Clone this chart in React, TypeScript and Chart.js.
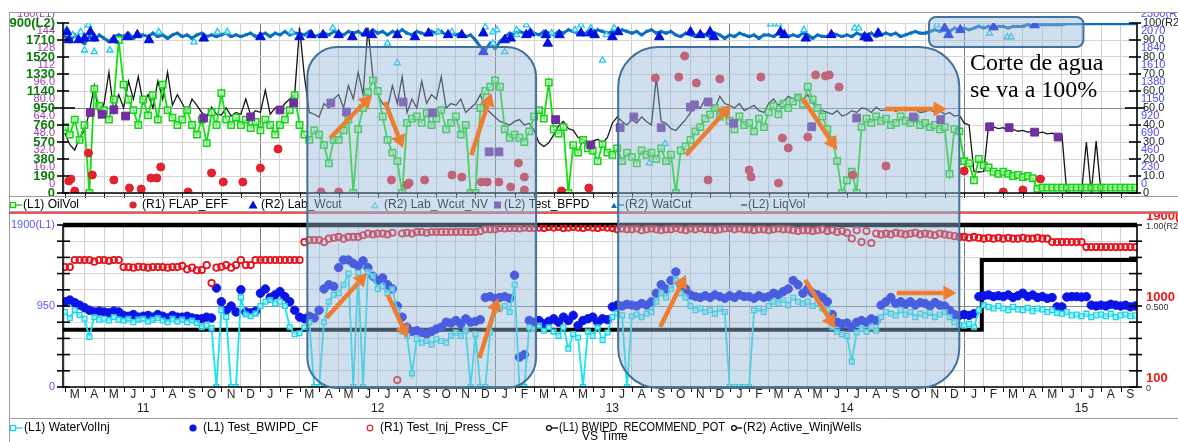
import React, { useEffect, useRef } from 'react';
import { Chart, registerables } from 'chart.js';

Chart.register(...registerables);

const W = 1178;
const H = 442;
const TOP_H = 212;
const BOT_H = H - TOP_H;
const STEP = 0.25; // months between samples, month 0 = Mar 2011
const X_MIN = -0.1;
const X_MAX = 54.84;
const SANS = '"Liberation Sans", Arial, Helvetica, sans-serif';
const SERIF = '"Liberation Serif", "Times New Roman", serif';

// ---------- axis tick labels ----------
const monthLetters = ['M', 'A', 'M', 'J', 'J', 'A', 'S', 'O', 'N', 'D', 'J', 'F'];
const yearLabels = ['11', '12', '13', '14', '15'];
const yearLabelMonths = [4, 16, 28, 40, 52];
const topL2Ticks = [0, 190, 380, 570, 760, 950, 1140, 1330, 1520, 1710, 1900];
const topL2Labels = ['0', '190', '380', '570', '760', '950', '1140', '1330', '1520', '1710', '1900(L2)'];
const topL1Ticks = [0, 16, 32, 48, 64, 80, 96, 112, 128, 144, 160];
const topL1Labels = ['0', '16.0', '32.0', '48.0', '64.0', '80.0', '96.0', '112', '128', '144', '160(L1)'];
const topR2Ticks = [0, 10, 20, 30, 40, 50, 60, 70, 80, 90, 100];
const topR2Labels = ['0', '10.0', '20.0', '30.0', '40.0', '50.0', '60.0', '70.0', '80.0', '90.0', '100(R2)'];
const topR1Ticks = [0, 230, 460, 690, 920, 1150, 1380, 1610, 1840, 2070, 2300];
const topR1Labels = ['0', '230', '460', '690', '920', '1150', '1380', '1610', '1840', '2070', '2300(R1)'];
const botL1Ticks = [0, 190, 380, 570, 760, 950, 1140, 1330, 1520, 1710, 1900];
const botL1LabelValues = [0, 950, 1900];
const botL1LabelTexts = ['0', '950', '1900(L1)'];
const botR2Ticks = [0, 0.1, 0.2, 0.3, 0.4, 0.5, 0.6, 0.7, 0.8, 0.9, 1.0];
const botR2LabelValues = [0, 0.5, 1.0];
const botR2LabelTexts = ['0', '0.500', '1.00(R2)'];
const botR1LabelValues = [100, 1000, 1900];
const botR1LabelTexts = ['100', '1000', '1900(R1)'];

// ---------- top panel series (quarter-month samples) ----------
const oilVol = [
  62, 55, 69, 50, 64, 0, 98, 82, 78, 69, 88, 144, 102, 88, 78, 64,
  88, 73, 92, 69, 102, 78, 71, 64, 69, 78, 64, 55, 69, 47, 76, 64,
  94, 69, 64, 71, 64, 69, 61, 67, 59, 69, 64, 55, 64, 69, 78, 92,
  64, 55, 50, 59, 55, 45, 28, 50, 50, 59, 69, 0, 60, 80, 95, 106,
  96, 72, 50, 38, 30, 0, 66, 70, 72, 66, 75, 64, 70, 78, 60, 66,
  72, 55, 64, 0, 0, 80, 96, 100, 106, 100, 60, 52, 55, 52, 48, 58,
  72, 78, 70, 104, 60, 56, 62, 0, 45, 38, 50, 42, 40, 30, 46, 38,
  36, 42, 30, 38, 34, 28, 40, 36, 38, 32, 42, 30, 36, 0, 40, 44,
  50, 58, 62, 70, 74, 80, 72, 78, 68, 60, 72, 64, 66, 58, 70, 62,
  76, 82, 74, 84, 80, 86, 90, 84, 100, 88, 80, 72, 60, 50, 30, 0,
  12, 20, 0, 62, 70, 66, 72, 68, 70, 64, 66, 72, 68, 66, 70, 64,
  66, 62, 64, 60, 62, 18, 60, 58, 30, 28, 12, 32, 26, 24, 20, 18,
  20, 18, 16, 17, 15, 16, 14, 4, 5, 5, 5, 5, 5, 5, 5, 5,
  5, 5, 5, 5, 5, 5, 5, 5, 5, 5, 5, 5,
];
const liqVol = [
  670, 540, 480, 615, 700, 900, 1200, 850, 1000, 1350, 900, 1100, 950, 1250, 1050, 1300,
  1000, 1100, 950, 1250, 1050, 1350, 980, 1100, 1000, 900, 1050, 980, 900, 850, 960, 880,
  870, 950, 860, 900, 880, 1050, 870, 920, 900, 1150, 880, 950, 920, 1000, 1050, 1100,
  1850, 1300, 900, 880, 850, 1000, 950, 1050, 1100, 950, 1200, 1050, 1350, 1100, 1850, 1300,
  1100, 1000, 950, 1200, 1000, 1300, 900, 1050, 950, 1250, 1000, 1100, 1050, 1300, 950, 1000,
  980, 1050, 900, 950, 1000, 1100, 950, 900, 850, 800, 780, 760, 800, 820, 760, 780,
  700, 560, 520, 560, 650, 750, 800, 720, 700, 620, 600, 560, 580, 600, 560, 620,
  780, 850, 800, 760, 820, 780, 850, 800, 760, 1290, 800, 780, 720, 700, 760, 820,
  900, 980, 950, 1050, 1000, 950, 1080, 1000, 980, 950, 1000, 920, 950, 980, 920, 900,
  1000, 1050, 980, 1020, 1080, 1050, 1100, 1040, 1100, 1000, 950, 920, 900, 880, 920, 860,
  880, 920, 900, 950, 940, 900, 960, 920, 930, 950, 910, 940, 920, 950, 930, 900,
  910, 930, 900, 920, 880, 900, 860, 870, 780, 760, 240, 235, 240, 760, 740, 720,
  730, 700, 710, 690, 700, 680, 690, 670, 680, 660, 670, 650, 650, 0, 0, 0,
  0, 570, 0, 580, 0, 0, 0, 0, 0, 0, 0, 0,
];
const watCut = [
  92, 89, 93, 90, 88, 92, 90, 93, 91, 89, 92, 93, 92, 94, 91, 93,
  93, 92, 94, 92, 93, 91, 93, 94, 92, 93, 91, 93, 94, 92, 93, 92,
  93, 94, 92, 93, 92, 93, 94, 92, 93, 94, 92, 94, 93, 95, 93, 94,
  94, 93, 95, 92, 93, 94, 93, 95, 94, 93, 95, 94, 95, 93, 94, 96,
  94, 95, 93, 95, 94, 96, 94, 93, 95, 94, 93, 95, 94, 95, 93, 94,
  93, 94, 92, 93, 90, 86, 84, 88, 85, 89, 92, 94, 93, 95, 94, 93,
  94, 93, 95, 94, 93, 95, 94, 96, 95, 94, 93, 95, 94, 96, 95, 94,
  95, 94, 96, 95, 94, 95, 93, 95, 96, 94, 95, 94, 95, 93, 92, 94,
  93, 92, 94, 93, 92, 94, 93, 91, 93, 92, 94, 93, 92, 93, 91, 93,
  93, 92, 94, 92, 92, 93, 92, 94, 93, 91, 93, 92, 92, 94, 93, 92,
  93, 92, 94, 93, 93, 94, 92, 93, 94, 93, 94, 92, 93, 94, 95, 94,
  94, 95, 96, 95, 96, 95, 97, 96, 97, 96, 97, 98, 97, 98, 97, 98,
  98, 97, 98, 98, 98, 99, 98, 99, 99, 99, 99, 99, 99, 99.5, 99.5, 99.5,
  99.5, 99.5, 99.5, 99.5, 99.5, 99.5, 99.5, 99.5, 99.5, 99.5, 99.5, 99.5,
];
const flapMonths = [0.2, 0.3, 0.5, 1.2, 1.4, 2.5, 3.3, 3.9, 4.4, 4.7, 4.9, 6.3, 7.5, 8.1, 9.1, 10.0, 10.9, 13.1, 14.0, 16.7, 17.5, 17.6, 18.4, 19.8, 20.3, 21.3, 21.6, 22.2, 22.8, 23.2, 23.5, 23.5, 25.4, 26.8, 30.2, 31.4, 31.7, 32.3, 33.5, 32.9, 35.0, 35.1, 35.6, 36.5, 36.7, 37.0, 38.0, 38.4, 38.9, 39.1, 39.6, 40.3, 42.0, 46.0, 48.0, 49.0, 49.9];
const flapEff = [162, 190, 27, 541, 244, 176, 68, 54, 203, 203, 352, 14, 271, 149, 149, 338, 595, 14, 14, 176, 108, 135, 176, 244, 216, 149, 149, 149, 81, 406, 216, 41, 27, 68, 1556, 1569, 1854, 1488, 1542, 176, 311, 216, 1569, 135, 744, 609, 758, 1597, 1583, 1597, 1434, 244, 365, 298, 14, 41, 189];
const labWcutMonths = [0.1, 0.2, 0.7, 1.0, 1.3, 1.5, 2.5, 3.2, 3.7, 4.3, 7.1, 10.0, 12.0, 12.6, 13.2, 14.0, 14.7, 15.4, 15.7, 17.0, 17.9, 18.6, 19.6, 20.3, 21.4, 22.5, 22.8, 23.6, 23.8, 24.6, 24.7, 25.3, 26.4, 26.9, 27.1, 28.0, 28.3, 30.4, 32.0, 32.5, 33.0, 33.2, 36.6, 36.8, 37.9, 39.2, 21.4, 40.9, 41.1, 41.6, 45.0, 45.2, 45.8, 47.5, 49.6];
const labWcut = [94.7, 90, 90, 91, 94.7, 91, 90, 91.8, 93, 90, 91, 91.8, 91.8, 93, 93, 93, 91.8, 94, 93, 93, 91.8, 94, 93, 93, 94, 90, 91, 93, 94, 93, 88, 93, 94, 94, 93, 91.8, 94.7, 91.8, 94.7, 93, 94.7, 91.8, 94.7, 93, 91, 93, 83, 91.8, 91, 94, 97, 93, 96, 97.6, 98.8];
const labWcutNvMonths = [0.1, 0.4, 0.8, 1.0, 1.2, 1.5, 2.3, 4.8, 6.6, 7.8, 8.3, 11.6, 13.7, 16.5, 17.0, 19.1, 19.8, 21.5, 21.9, 22.1, 22.5, 23.1, 23.6, 23.1, 23.9, 24.9, 26.1, 26.4, 26.9, 27.5, 27.7, 28.1, 36.1, 36.5, 37.8, 30.7, 29.9, 21.9, 40.4, 40.6, 44.6, 47.3, 48.2, 48.4];
const labWcutNv = [95.9, 93, 94.7, 84, 98.8, 83, 84, 94.7, 88.8, 94.7, 94.7, 94.7, 97, 88, 76.5, 94.7, 94.7, 97.6, 94.7, 95.9, 83, 95.9, 98.8, 93, 94, 94, 95.9, 98.8, 97, 78, 93, 97, 99.4, 99.4, 95.9, 29, 17.6, 88, 97, 97, 98.8, 94, 91.8, 91.8];
const bfpdMonths = [1.3, 1.9, 2.5, 3.1, 7.1, 9.5, 11.0, 11.7, 13.6, 14.4, 17.3, 18.8, 21.7, 22.2, 25.1, 26.9, 28.4, 29.1, 30.5, 32.0, 32.2, 32.9, 34.2, 38.2, 40.5, 43.4, 44.8, 47.3, 48.3, 49.6, 50.8];
const testBfpd = [900, 880, 930, 860, 838, 850, 928, 1006, 1006, 905, 1017, 894, 460, 460, 820, 537, 730, 850, 730, 960, 985, 1017, 780, 740, 838, 850, 820, 740, 730, 680, 625];

// ---------- bottom panel series (quarter-month samples) ----------
const waterVolInj = [
  880, 810, 900, 845, 800, 586, 820, 790, 800, 780, 820, 790, 780, 800, 760, 790,
  800, 770, 790, 810, 780, 760, 800, 770, 790, 760, 780, 750, 700, 720, 690, 0,
  900, 820, 0, 0, 1050, 850, 830, 860, 950, 1000, 1020, 980, 1000, 950, 700, 620,
  630, 700, 760, 0, 0, 760, 1000, 1080, 1100, 1200, 1330, 0, 1340, 0, 1350, 1300,
  1150, 1180, 1100, 1150, 900, 650, 600, 160, 560, 520, 540, 500, 560, 540, 520, 600,
  640, 600, 660, 0, 620, 0, 0, 640, 900, 920, 950, 880, 1200, 0, 0, 700,
  680, 720, 660, 700, 650, 600, 700, 450, 620, 580, 0, 650, 600, 700, 550, 640,
  820, 860, 840, 0, 830, 850, 820, 860, 880, 1000, 1100, 1050, 1150, 1250, 1100, 1050,
  950, 900, 920, 880, 900, 860, 920, 880, 0, 0, 0, 0, 0, 900, 920, 880,
  950, 1000, 980, 1020, 960, 1050, 1000, 980, 1000, 950, 980, 920, 900, 700, 650, 620,
  600, 300, 640, 680, 650, 700, 660, 820, 880, 860, 840, 900, 850, 880, 820, 860,
  840, 870, 820, 850, 880, 820, 760, 730, 720, 740, 700, 900, 960, 940, 920, 950,
  920, 900, 940, 910, 900, 930, 890, 920, 910, 880, 900, 870, 860, 880, 840, 850,
  830, 860, 820, 840, 850, 830, 860, 820, 840, 850, 830, 840,
];
const testBwipd = [
  1000, 1020, 990, 960, 930, 900, 880, 890, 880, 870, 890, 880, 840, 830, 850, 820,
  830, 840, 820, 850, 830, 810, 840, 820, 820, 830, 810, 800, 800, 820, 810, 1160,
  1000, 900, 950, 880, 1140, 880, 870, 890, 1100, 1150, 1050, 1080, 1120, 1060, 1000, 900,
  820, 800, 830, 810, 900, 1150, 1200, 1180, 1400, 1490, 1490, 1450, 1420, 1480, 1400, 1300,
  1250, 1280, 1200, 1150, 950, 820, 700, 650, 660, 640, 620, 650, 680, 700, 760, 750,
  780, 740, 800, 760, 770, 790, 1050, 1060, 1040, 1050, 1060, 1040, 1310, 350, 380, 780,
  760, 780, 740, 770, 800, 760, 820, 780, 840, 720, 780, 800, 820, 760, 800, 790,
  940, 960, 950, 970, 960, 950, 980, 960, 1000, 1100, 1200, 1150, 1250, 1350, 1200, 1150,
  1080, 1060, 1050, 1070, 1050, 1080, 1060, 1040, 1070, 1050, 1080, 1060, 1060, 1040, 1070, 1050,
  1060, 1100, 1080, 1120, 1150, 1250, 1200, 1100, 1150, 1100, 1080, 1050, 1000, 850, 760, 740,
  750, 700, 760, 780, 760, 800, 780, 960, 1000, 1050, 980, 1000, 970, 1000, 960, 990,
  980, 950, 990, 960, 950, 900, 850, 840, 850, 840, 860, 1060, 1070, 1080, 1060, 1070,
  1060, 1080, 1050, 1070, 1100, 1060, 1080, 1050, 1060, 1040, 1050, 940, 940, 1055, 1060, 1060,
  1055, 1060, 960, 950, 960, 950, 970, 960, 950, 960, 940, 950,
];
const injPress = [
  1333, 1333, 1411, 1411, 1411, 1411, 1392, 1411, 1411, 1402, 1411, 1411, 1333, 1333, 1326, 1335,
  1333, 1326, 1333, 1333, 1333, 1326, 1333, 1333, 1345, 1307, 1326, 1297, 1300, 1354, 1155, 1326,
  1335, 1355, 1326, 1355, 1411, 1355, 1355, 1411, 1411, 1411, 1411, 1411, 1411, 1411, 1411, 1411,
  1411, 1610, 1633, 1633, 1633, 1610, 1648, 1657, 1667, 1648, 1667, 1667, 1667, 1686, 1705, 1695,
  1705, 1705, 1695, 1714, 78, 1705, 1714, 1705, 1722, 1722, 1714, 1722, 1722, 1722, 1722, 1722,
  1722, 1724, 1722, 1722, 1722, 1733, 1752, 1752, 1752, 1766, 1761, 1766, 1766, 1761, 1771, 1766,
  1766, 1771, 1766, 1780, 1771, 1780, 1766, 1771, 1780, 1771, 1766, 1780, 1771, 1766, 1780, 1771,
  1766, 1752, 1761, 1752, 1752, 1761, 1742, 1752, 1761, 1752, 1742, 1752, 1752, 1766, 1752, 1742,
  1761, 1752, 1766, 1752, 1752, 1742, 1752, 1761, 1766, 1752, 1761, 1752, 1752, 1742, 1752, 1752,
  1742, 1752, 1761, 1752, 1752, 1742, 1733, 1742, 1742, 1733, 1742, 1752, 1733, 1742, 1722, 1733,
  1714, 1650, 1742, 1610, 1733, 1600, 1705, 1695, 1705, 1695, 1714, 1705, 1695, 1705, 1714, 1695,
  1705, 1695, 1686, 1705, 1695, 1686, 1676, 1667, 1667, 1657, 1667, 1657, 1648, 1657, 1648, 1657,
  1648, 1657, 1648, 1648, 1657, 1648, 1648, 1657, 1648, 1648, 1610, 1610, 1610, 1610, 1610, 1610,
  1610, 1555, 1555, 1555, 1555, 1555, 1555, 1555, 1555, 1555, 1555, 1555,
];
const recommendMonths = [X_MIN, 46.9, 46.9, X_MAX];
const recommendPot = [670, 670, 1490, 1490];
const wellsMonths = [X_MIN, X_MAX];
const activeWells = [1.0, 1.0];

// ---------- annotations ----------
const boxMonthStart = [12.4, 28.3, 44.2];
const boxMonthEnd = [24.1, 45.75, 52.1];
const boxTopL2 = [1632, 1632, 1968];
const boxBottomL1 = [-12, -12, null];
const boxBottomL2 = [null, null, 1632];
const boxRadius = [30, 40, 7];
const arrowsTop = [
  [13.57, 615, 15.71, 1096],
  [16.37, 1017, 17.29, 503],
  [20.79, 425, 21.81, 1118],
  [31.77, 425, 34.06, 984],
  [37.72, 1062, 39.5, 481],
  [41.94, 939, 45.1, 939],
];
const arrowsBottom = [
  [13.37, 809, 15.45, 1337],
  [16.52, 1079, 17.54, 575],
  [21.2, 340, 22.17, 1044],
  [30.45, 704, 31.77, 1314],
  [37.87, 1255, 39.4, 692],
  [42.55, 1103, 45.6, 1103],
];
const noteLines = ['Corte de agua', 'se va a 100%'];
const noteMonth = 46.3;
const noteL2 = [1375, 1073];

const topLegendTexts = ['(L1) OilVol', '(R1) FLAP_EFF', '(R2) Lab_Wcut', '(R2) Lab_Wcut_NV', '(L2) Test_BFPD', '(R2) WatCut', '(L2) LiqVol'];
const topLegendX = [23, 142, 261, 384, 504, 625, 748];
const topLegendMaxW = [100, 100, 100, 106, 100, 100, 100];
const botLegendTexts = ['(L1) WaterVolInj', '(L1) Test_BWIPD_CF', '(R1) Test_Inj_Press_CF', '(L1) BWIPD_RECOMMEND_POT', '(R2) Active_WinjWells'];
const botLegendX = [24, 203, 380, 559, 743];
const botLegendMaxW = [160, 160, 160, 166, 120];

const series = (vals: number[]) => vals.map((v, i) => ({ x: i * STEP, y: v }));
const pairs = (ms: number[], vs: number[]) => ms.map((m, i) => ({ x: m, y: vs[i] }));
const monthTicks = Array.from({ length: 55 }, (_, i) => i);

function xScale() {
  return {
    type: 'linear',
    position: 'bottom',
    min: X_MIN,
    max: X_MAX,
    ticks: { display: false },
    border: { display: false },
    grid: {
      drawTicks: false,
      lineWidth: 1,
      color: (c: any) => (c.tick && (c.tick.value - 10) % 12 === 0 ? '#7c7c7c' : '#d0d0d0'),
    },
    afterBuildTicks: (s: any) => { s.ticks = monthTicks.map((v) => ({ value: v })); },
    afterFit: (s: any) => { s.height = 0; },
  };
}

function yGrid(min: number, max: number, ticks: number[], mid: number) {
  return {
    type: 'linear',
    position: 'left',
    min,
    max,
    ticks: { display: false },
    border: { display: false },
    grid: {
      drawTicks: false,
      lineWidth: 1,
      color: (c: any) => (c.tick && c.tick.value === mid ? '#8a8a8a' : '#d6d6d6'),
    },
    afterBuildTicks: (s: any) => { s.ticks = ticks.map((v) => ({ value: v })); },
    afterFit: (s: any) => { s.width = 0; },
  };
}

function hidden(min: number, max: number, position = 'right') {
  return { type: 'linear', display: false, min, max, position };
}

function line(ctx: any, x1: number, y1: number, x2: number, y2: number) {
  ctx.beginPath();
  ctx.moveTo(x1, y1);
  ctx.lineTo(x2, y2);
  ctx.stroke();
}

function drawMonthTicks(ctx: any, xs: any, bottom: number) {
  ctx.strokeStyle = '#000';
  ctx.lineWidth = 1;
  monthTicks.forEach((m) => {
    const x = Math.round(xs.getPixelForValue(m)) + 0.5;
    line(ctx, x, bottom, x, bottom + 5);
  });
}

const topAxesPlugin = {
  id: 'topAxes',
  afterDraw(chart: any) {
    const { ctx, chartArea } = chart;
    const { left, right, top, bottom } = chartArea;
    const sL2 = chart.scales.yL2;
    const sL1 = chart.scales.yL1;
    const sR1 = chart.scales.yR1;
    const sR2 = chart.scales.yR2;
    ctx.save();
    ctx.beginPath();
    ctx.rect(10, 13, chart.width - 10, chart.height - 13);
    ctx.clip();
    ctx.strokeStyle = '#000';
    ctx.lineWidth = 1.6;
    ctx.beginPath();
    ctx.moveTo(left, top);
    ctx.lineTo(left, bottom);
    ctx.lineTo(right, bottom);
    ctx.lineTo(right, top);
    ctx.stroke();
    drawMonthTicks(ctx, chart.scales.x, bottom);
    ctx.strokeStyle = '#000';
    ctx.lineWidth = 1.6;
    topL2Ticks.forEach((v) => {
      const y = sL2.getPixelForValue(v);
      const big = v === 950;
      line(ctx, left - (big ? 11 : 6), y, left + (big ? 12 : 6), y);
    });
    topR2Ticks.forEach((v) => {
      const y = sR2.getPixelForValue(v);
      const big = v === 50;
      line(ctx, right - (big ? 12 : 8), y, right + (big ? 8 : 4), y);
    });
    ctx.textBaseline = 'middle';
    ctx.textAlign = 'right';
    ctx.font = `11px ${SANS}`;
    ctx.fillStyle = '#a23cb4';
    topL1Ticks.forEach((v, i) => {
      ctx.fillText(topL1Labels[i], left - 8, sL1.getPixelForValue(v) - 9.5);
    });
    ctx.font = `bold 13px ${SANS}`;
    ctx.fillStyle = '#0b7d0b';
    topL2Ticks.forEach((v, i) => {
      ctx.fillText(topL2Labels[i], left - 8, sL2.getPixelForValue(v));
    });
    ctx.textAlign = 'left';
    ctx.font = `11px ${SANS}`;
    ctx.fillStyle = '#4a4af5';
    topR1Ticks.forEach((v, i) => {
      ctx.fillText(topR1Labels[i], right + 4, sR1.getPixelForValue(v) - 9);
    });
    ctx.fillStyle = '#1a1a1a';
    topR2Ticks.forEach((v, i) => {
      ctx.fillText(topR2Labels[i], right + 6, sR2.getPixelForValue(v));
    });
    ctx.restore();
  },
};

const botAxesPlugin = {
  id: 'botAxes',
  afterDraw(chart: any) {
    const { ctx, chartArea } = chart;
    const { left, right, top, bottom } = chartArea;
    const sL1 = chart.scales.yB;
    const sR1 = chart.scales.yBR1;
    const sR2 = chart.scales.yBR2;
    const xs = chart.scales.x;
    ctx.save();
    ctx.beginPath();
    ctx.rect(10, 2, chart.width - 10, chart.height - 2);
    ctx.clip();
    ctx.strokeStyle = '#000';
    ctx.lineWidth = 1.6;
    ctx.beginPath();
    ctx.moveTo(left, top);
    ctx.lineTo(left, bottom);
    ctx.lineTo(right, bottom);
    ctx.lineTo(right, top);
    ctx.stroke();
    drawMonthTicks(ctx, xs, bottom);
    ctx.strokeStyle = '#000';
    ctx.lineWidth = 1.6;
    botL1Ticks.forEach((v) => {
      const y = sL1.getPixelForValue(v);
      line(ctx, left - 6, y, left + 7, y);
    });
    botR2Ticks.forEach((v) => {
      const y = sR2.getPixelForValue(v);
      line(ctx, right - 8, y, right + 5, y);
    });
    ctx.textBaseline = 'middle';
    ctx.textAlign = 'right';
    ctx.font = `11px ${SANS}`;
    ctx.fillStyle = '#5a5af8';
    botL1LabelValues.forEach((v, i) => {
      ctx.fillText(botL1LabelTexts[i], left - 8, sL1.getPixelForValue(v));
    });
    ctx.textAlign = 'left';
    ctx.font = `9px ${SANS}`;
    ctx.fillStyle = '#333';
    botR2LabelValues.forEach((v, i) => {
      ctx.fillText(botR2LabelTexts[i], right + 9, sR2.getPixelForValue(v) + 2);
    });
    ctx.font = `bold 13px ${SANS}`;
    ctx.fillStyle = '#f01818';
    botR1LabelValues.forEach((v, i) => {
      ctx.fillText(botR1LabelTexts[i], right + 9, sR1.getPixelForValue(v));
    });
    // month and year labels
    ctx.textAlign = 'center';
    ctx.textBaseline = 'middle';
    ctx.font = `12px ${SANS}`;
    ctx.fillStyle = '#222';
    monthTicks.forEach((m) => {
      ctx.fillText(monthLetters[m % 12], xs.getPixelForValue(m + 0.5), bottom + 8);
    });
    yearLabelMonths.forEach((m, i) => {
      ctx.fillText(yearLabels[i], xs.getPixelForValue(m), bottom + 22);
    });
    ctx.restore();
  },
};

const baseOptions = (padding: any) => ({
  responsive: false,
  maintainAspectRatio: false,
  animation: false,
  devicePixelRatio: 1,
  events: [],
  layout: { padding },
  plugins: { legend: { display: false }, tooltip: { enabled: false } },
});

function topConfig(): any {
  return {
    type: 'line',
    data: {
      datasets: [
        { label: 'LiqVol', yAxisID: 'yL2', data: series(liqVol), borderColor: '#141414', borderWidth: 1.3, pointRadius: 0, order: 6 },
        { label: 'WatCut', yAxisID: 'yR2', data: series(watCut), borderColor: '#0b6fc0', borderWidth: 3, pointStyle: 'triangle', pointRadius: 2.5, pointBackgroundColor: '#0b6fc0', pointBorderColor: '#0b6fc0', pointBorderWidth: 0, order: 5 },
        { label: 'OilVol', yAxisID: 'yL1', data: series(oilVol), borderColor: '#10e010', borderWidth: 1.8, pointStyle: 'rect', pointRadius: 4.5, pointBorderColor: '#14d414', pointBackgroundColor: 'rgba(200,255,200,0.55)', pointBorderWidth: 1.5, order: 4 },
        { label: 'Test_BFPD', yAxisID: 'yL2', data: pairs(bfpdMonths, testBfpd), showLine: false, pointStyle: 'rect', pointRadius: 5.5, pointBackgroundColor: '#702f9e', pointBorderColor: '#702f9e', order: 3 },
        { label: 'Lab_Wcut_NV', yAxisID: 'yR2', data: pairs(labWcutNvMonths, labWcutNv), showLine: false, pointStyle: 'triangle', pointRadius: 3.6, pointBorderColor: '#1ec8f0', pointBackgroundColor: 'rgba(255,255,255,0.7)', pointBorderWidth: 1.3, order: 2 },
        { label: 'Lab_Wcut', yAxisID: 'yR2', data: pairs(labWcutMonths, labWcut), showLine: false, pointStyle: 'triangle', pointRadius: 5.5, pointBorderColor: '#0010e0', pointBackgroundColor: '#0010e0', order: 1 },
        { label: 'FLAP_EFF', yAxisID: 'yR1', data: pairs(flapMonths, flapEff), showLine: false, pointStyle: 'circle', pointRadius: 4, pointBorderColor: '#e01c28', pointBackgroundColor: '#e3232d', order: 0 },
      ],
    },
    options: {
      ...baseOptions({ left: 63, right: 41, top: 23, bottom: TOP_H - 193 }),
      scales: {
        x: xScale(),
        yL2: yGrid(0, 1900, topL2Ticks, 950),
        yL1: hidden(0, 160, 'left'),
        yR1: hidden(0, 2300),
        yR2: hidden(0, 100),
      },
    },
    plugins: [topAxesPlugin],
  };
}

function botConfig(): any {
  return {
    type: 'line',
    data: {
      datasets: [
        { label: 'Active_WinjWells', yAxisID: 'yBR2', data: pairs(wellsMonths, activeWells), borderColor: '#000', borderWidth: 4.5, pointRadius: 0, clip: false, order: 6 },
        { label: 'BWIPD_RECOMMEND_POT', yAxisID: 'yB', data: pairs(recommendMonths, recommendPot), borderColor: '#000', borderWidth: 4, pointRadius: 0, order: 5 },
        { label: 'Test_BWIPD_CF', yAxisID: 'yB', data: series(testBwipd), showLine: false, pointStyle: 'circle', pointRadius: 4.2, pointBorderColor: '#0a14e6', pointBackgroundColor: '#0a14e6', order: 4 },
        { label: 'WaterVolInj', yAxisID: 'yB', data: series(waterVolInj), borderColor: '#16e4f0', borderWidth: 1.8, pointStyle: 'rect', pointRadius: 3.4, pointBorderColor: '#12d6e6', pointBackgroundColor: 'rgba(200,250,255,0.6)', pointBorderWidth: 1.3, order: 3 },
        { label: 'Test_Inj_Press_CF', yAxisID: 'yBR1', data: series(injPress), showLine: false, pointStyle: 'circle', pointRadius: 3.2, pointBorderColor: '#e8121c', pointBackgroundColor: 'rgba(255,255,255,0)', pointBorderWidth: 1.8, order: 1 },
      ],
    },
    options: {
      ...baseOptions({ left: 63, right: 41, top: 225 - TOP_H, bottom: H - 387 }),
      scales: {
        x: xScale(),
        yB: yGrid(0, 1900, botL1Ticks, 950),
        yBR1: hidden(0, 1800),
        yBR2: hidden(0, 1),
      },
    },
    plugins: [botAxesPlugin],
  };
}

function arrow(ctx: any, x1: number, y1: number, x2: number, y2: number) {
  const a = Math.atan2(y2 - y1, x2 - x1);
  const head = 13;
  const hw = 7.5;
  const bx = x2 - head * Math.cos(a);
  const by = y2 - head * Math.sin(a);
  ctx.strokeStyle = '#ed7d31';
  ctx.fillStyle = '#ed7d31';
  ctx.lineWidth = 4.5;
  ctx.lineCap = 'butt';
  line(ctx, x1, y1, bx, by);
  ctx.beginPath();
  ctx.moveTo(x2, y2);
  ctx.lineTo(bx + hw * Math.sin(a), by - hw * Math.cos(a));
  ctx.lineTo(bx - hw * Math.sin(a), by + hw * Math.cos(a));
  ctx.closePath();
  ctx.fill();
}

function tri(ctx: any, x: number, y: number, s: number, fill: string | null, stroke: string | null) {
  ctx.beginPath();
  ctx.moveTo(x, y - s);
  ctx.lineTo(x + s, y + s * 0.8);
  ctx.lineTo(x - s, y + s * 0.8);
  ctx.closePath();
  if (fill) { ctx.fillStyle = fill; ctx.fill(); }
  if (stroke) { ctx.strokeStyle = stroke; ctx.lineWidth = 1; ctx.stroke(); }
}

function circ(ctx: any, x: number, y: number, r: number, fill: string | null, stroke: string | null) {
  ctx.beginPath();
  ctx.arc(x, y, r, 0, Math.PI * 2);
  if (fill) { ctx.fillStyle = fill; ctx.fill(); }
  if (stroke) { ctx.strokeStyle = stroke; ctx.lineWidth = 1.2; ctx.stroke(); }
}

function drawOverlay(cv: HTMLCanvasElement, top: any, bot: any) {
  const ctx: any = cv.getContext('2d');
  ctx.clearRect(0, 0, W, H);

  // frames
  ctx.lineWidth = 1;
  ctx.strokeStyle = '#9c9c9c';
  line(ctx, 9.5, 12, 9.5, H);
  line(ctx, 9, 12.5, W, 12.5);
  line(ctx, 9, 196.5, W, 196.5);
  line(ctx, 9, 211.5, W, 211.5);
  line(ctx, 9, 418.5, W, 418.5);
  ctx.strokeStyle = '#e82020';
  ctx.lineWidth = 1.6;
  line(ctx, 9, 213, W, 213);

  // legends
  const ly = 205;
  ctx.font = `12px ${SANS}`;
  ctx.textBaseline = 'middle';
  ctx.textAlign = 'left';
  ctx.fillStyle = '#000';
  topLegendTexts.forEach((t, i) => ctx.fillText(t, topLegendX[i], ly, topLegendMaxW[i]));
  ctx.lineWidth = 1.3;
  ctx.strokeStyle = '#10d010';
  ctx.strokeRect(10.5, ly - 2.5, 5, 5);
  line(ctx, 16, ly, 22, ly);
  circ(ctx, 133, ly, 3.6, '#e3232d', null);
  tri(ctx, 253, ly, 4.5, '#0010e0', null);
  tri(ctx, 375, ly + 0.5, 3, null, '#1ec8f0');
  ctx.fillStyle = '#702f9e';
  ctx.fillRect(494, ly - 3.5, 7, 7);
  tri(ctx, 614, ly + 0.5, 3, '#0b6fc0', null);
  ctx.strokeStyle = '#0b6fc0';
  ctx.lineWidth = 1.3;
  line(ctx, 617, ly, 624, ly);
  ctx.strokeStyle = '#000';
  line(ctx, 741, ly, 747, ly);

  const by2 = 428;
  ctx.font = `12px ${SANS}`;
  ctx.fillStyle = '#000';
  botLegendTexts.forEach((t, i) => ctx.fillText(t, botLegendX[i], by2, botLegendMaxW[i]));
  ctx.fillText('VS Time', 582, 437);
  ctx.strokeStyle = '#12d6e6';
  ctx.lineWidth = 1.3;
  ctx.strokeRect(10.5, by2 - 2.5, 5, 5);
  line(ctx, 16, by2, 23, by2);
  circ(ctx, 193, by2, 3.6, '#0a14e6', null);
  circ(ctx, 370, by2, 2.8, null, '#ee2020');
  circ(ctx, 549, by2, 2.4, null, '#000');
  ctx.strokeStyle = '#000';
  ctx.lineWidth = 1.3;
  line(ctx, 552, by2, 558, by2);
  circ(ctx, 734, by2, 2.4, null, '#000');
  ctx.strokeStyle = '#000';
  ctx.lineWidth = 1.3;
  line(ctx, 737, by2, 742, by2);

  // highlight boxes
  const xs = top.scales.x;
  const yT = top.scales.yL2;
  const yB = bot.scales.yB;
  boxMonthStart.forEach((m0, i) => {
    const x0 = xs.getPixelForValue(m0);
    const x1 = xs.getPixelForValue(boxMonthEnd[i]);
    const y0 = yT.getPixelForValue(boxTopL2[i]);
    const y1 = boxBottomL1[i] !== null ? yB.getPixelForValue(boxBottomL1[i]) + TOP_H : yT.getPixelForValue(boxBottomL2[i]);
    ctx.beginPath();
    ctx.roundRect(x0, y0, x1 - x0, y1 - y0, boxRadius[i]);
    ctx.fillStyle = 'rgba(150,184,216,0.45)';
    ctx.fill();
    ctx.strokeStyle = '#41719c';
    ctx.lineWidth = 2;
    ctx.stroke();
  });

  arrowsTop.forEach((a) => arrow(ctx, xs.getPixelForValue(a[0]), yT.getPixelForValue(a[1]), xs.getPixelForValue(a[2]), yT.getPixelForValue(a[3])));
  arrowsBottom.forEach((a) => arrow(ctx, xs.getPixelForValue(a[0]), yB.getPixelForValue(a[1]) + TOP_H, xs.getPixelForValue(a[2]), yB.getPixelForValue(a[3]) + TOP_H));

  ctx.fillStyle = '#000';
  ctx.font = `24px ${SERIF}`;
  ctx.textAlign = 'left';
  ctx.textBaseline = 'alphabetic';
  noteLines.forEach((t, i) => ctx.fillText(t, xs.getPixelForValue(noteMonth), yT.getPixelForValue(noteL2[i])));
}

export default function App() {
  const topRef = useRef<HTMLCanvasElement>(null);
  const botRef = useRef<HTMLCanvasElement>(null);
  const ovRef = useRef<HTMLCanvasElement>(null);

  useEffect(() => {
    const top = new Chart(topRef.current as any, topConfig());
    const bot = new Chart(botRef.current as any, botConfig());
    drawOverlay(ovRef.current as any, top, bot);
    return () => {
      top.destroy();
      bot.destroy();
    };
  }, []);

  return (
    <div style={{ position: 'absolute', left: 0, top: 0, width: W, height: H, background: '#fff', overflow: 'hidden' }}>
      <canvas ref={topRef} width={W} height={TOP_H} style={{ position: 'absolute', left: 0, top: 0, width: W, height: TOP_H }} />
      <canvas ref={botRef} width={W} height={BOT_H} style={{ position: 'absolute', left: 0, top: TOP_H, width: W, height: BOT_H }} />
      <canvas ref={ovRef} width={W} height={H} style={{ position: 'absolute', left: 0, top: 0, width: W, height: H, pointerEvents: 'none' }} />
    </div>
  );
}
